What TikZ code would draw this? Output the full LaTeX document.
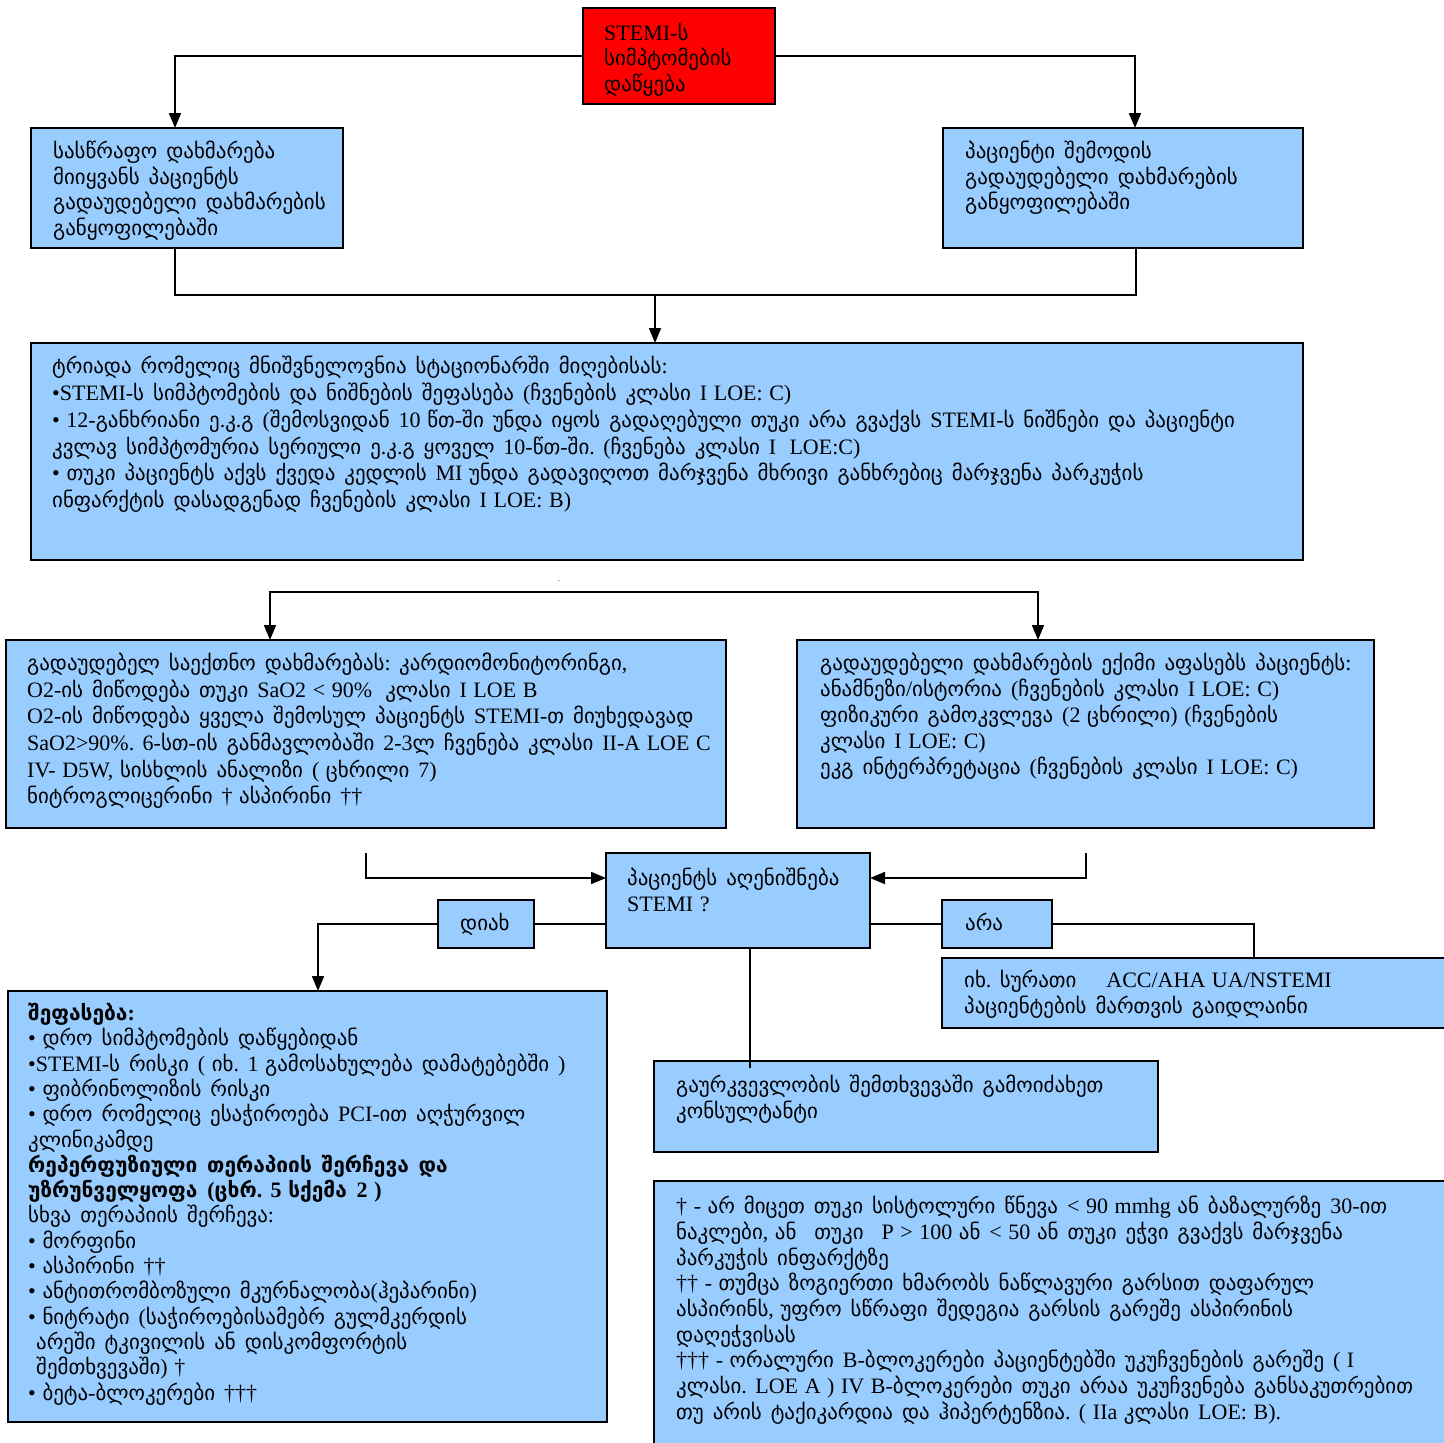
\documentclass[tikz,border=0pt]{standalone}
\usepackage{fontspec}
\setmainfont{Liberation Serif}[WordSpace=1.2]
\newfontfamily\geofont{DejaVu Sans}[Scale=0.95, WordSpace=1.35]
\newXeTeXintercharclass\GeoClass
\newcount\geocnt
\geocnt="10A0
\loop
  \XeTeXcharclass\geocnt=\GeoClass
  \ifnum\geocnt<"10FF \advance\geocnt by 1 \repeat
\XeTeXinterchartokenstate=1
\XeTeXinterchartoks 0 \GeoClass={\geofont}
\XeTeXinterchartoks 4095 \GeoClass={\geofont}
\XeTeXinterchartoks \GeoClass 0={\rmfamily}
\XeTeXinterchartoks 4095 0={\rmfamily}
\usetikzlibrary{arrows.meta,calc}
\definecolor{boxblue}{HTML}{99CCFF}
\definecolor{stemired}{HTML}{FF0000}
\newcommand{\firststrut}{\rule{0pt}{17pt}}
\tikzset{
  box/.style={draw=black, line width=2pt, fill=boxblue, anchor=north west, inner sep=0pt, outer sep=0pt},
  txt/.style={anchor=north west, align=left, inner sep=0pt, font=\fontsize{22}{25.5}\selectfont},
  conn/.style={line width=1.8pt},
  arr/.style={line width=1.8pt, -{Triangle[length=15pt,width=12pt]}},
}
\begin{document}
\begin{tikzpicture}[x=1pt,y=-1pt]
\path[use as bounding box, fill=white] (0,0) rectangle (1444,1443);

% boxes
\node[box, fill=stemired, minimum width=192pt, minimum height=96pt] (red) at (583,8) {};
\node[box, minimum width=312pt, minimum height=120pt] (ltop) at (31,128) {};
\node[box, minimum width=360pt, minimum height=120pt] (rtop) at (943,128) {};
\node[box, minimum width=1272pt, minimum height=217pt] (big) at (31,343) {};
\node[box, minimum width=720pt, minimum height=188pt] (lmid) at (6,640) {};
\node[box, minimum width=577pt, minimum height=188pt] (rmid) at (797,640) {};
\node[box, minimum width=264pt, minimum height=95pt] (dec) at (606,853) {};
\node[box, minimum width=96pt, minimum height=48pt] (diax) at (438,900) {};
\node[box, minimum width=110pt, minimum height=48pt] (ara) at (942,900) {};
\node[box, minimum width=530pt, minimum height=70pt] (ixb) at (942,958) {};
\node[box, minimum width=599pt, minimum height=431pt] (bl) at (8,991) {};
\node[box, minimum width=504pt, minimum height=91pt] (cons) at (654,1061) {};
\node[box, minimum width=820pt, minimum height=280pt] (foot) at (654,1181) {};

% texts (y = first baseline - 17)
\node[txt] (redt) at (604,23) {\firststrut STEMI-ს\\სიმპტომების\\დაწყება};
\node[txt] (ltopt) at (53,141) {\firststrut სასწრაფო დახმარება\\მიიყვანს პაციენტს\\გადაუდებელი დახმარების\\განყოფილებაში};
\node[txt] (rtopt) at (965,141) {\firststrut პაციენტი შემოდის\\გადაუდებელი დახმარების\\განყოფილებაში};
\node[txt, font=\fontsize{22}{26.8}\selectfont] (bigt) at (52,356) {\firststrut ტრიადა რომელიც მნიშვნელოვნია სტაციონარში მიღებისას:\\
•STEMI-ს სიმპტომების და ნიშნების შეფასება (ჩვენების კლასი I LOE: C)\\
• 12-განხრიანი ე.კ.გ (შემოსვიდან 10 წთ-ში უნდა იყოს გადაღებული თუკი არა გვაქვს STEMI-ს ნიშნები და პაციენტი\\
კვლავ სიმპტომურია სერიული ე.კ.გ ყოველ 10-წთ-ში. (ჩვენება კლასი I~ LOE:C)\\
• თუკი პაციენტს აქვს ქვედა კედლის MI უნდა გადავიღოთ მარჯვენა მხრივი განხრებიც მარჯვენა პარკუჭის\\
ინფარქტის დასადგენად ჩვენების კლასი I LOE: B)};
\node[txt, font=\fontsize{8}{8}\selectfont] (dot) at (558,580) {.};
\node[txt, font=\fontsize{22}{26.6}\selectfont] (lmidt) at (27,653) {\firststrut გადაუდებელ საექთნო დახმარებას: კარდიომონიტორინგი,\\
O2-ის მიწოდება თუკი SaO2 < 90\%~ კლასი I LOE B\\
O2-ის მიწოდება ყველა შემოსულ პაციენტს STEMI-თ მიუხედავად\\
SaO2>90\%. 6-სთ-ის განმავლობაში 2-3ლ ჩვენება კლასი II-A LOE C\\
IV- D5W, სისხლის ანალიზი ( ცხრილი 7)\\
ნიტროგლიცერინი † ასპირინი ††};
\node[txt, font=\fontsize{22}{26}\selectfont] (rmidt) at (820,653) {\firststrut გადაუდებელი დახმარების ექიმი აფასებს პაციენტს:\\
ანამნეზი/ისტორია (ჩვენების კლასი I LOE: C)\\
ფიზიკური გამოკვლევა (2 ცხრილი) (ჩვენების\\
კლასი I LOE: C)\\
ეკგ ინტერპრეტაცია (ჩვენების კლასი I LOE: C)};
\node[txt] (dect) at (627,868) {\firststrut პაციენტს აღენიშნება\\STEMI ?};
\node[txt] (diaxt) at (460,913) {\firststrut დიახ};
\node[txt] (arat) at (965,913) {\firststrut არა};
\node[txt] (ixbt) at (964,970) {\firststrut იხ. სურათი \quad ACC/AHA UA/NSTEMI\\პაციენტების მართვის გაიდლაინი};
\node[txt] (const) at (676,1075) {\firststrut გაურკვევლობის შემთხვევაში გამოიძახეთ\\კონსულტანტი};
\node[txt, font=\fontsize{22}{25.3}\selectfont] (blt) at (28,1003) {\firststrut\textbf{შეფასება:}\\
• დრო სიმპტომების დაწყებიდან\\
•STEMI-ს რისკი ( იხ. 1 გამოსახულება დამატებებში )\\
• ფიბრინოლიზის რისკი\\
• დრო რომელიც ესაჭიროება PCI-ით აღჭურვილ\\
კლინიკამდე\\
\textbf{რეპერფუზიული თერაპიის შერჩევა და}\\
\textbf{უზრუნველყოფა (ცხრ. 5 სქემა 2 )}\\
სხვა თერაპიის შერჩევა:\\
• მორფინი\\
• ასპირინი ††\\
• ანტითრომბოზული მკურნალობა(ჰეპარინი)\\
• ნიტრატი (საჭიროებისამებრ გულმკერდის\\
\hspace*{8pt}არეში ტკივილის ან დისკომფორტის\\
\hspace*{8pt}შემთხვევაში) †\\
• ბეტა-ბლოკერები †††};
\node[txt, font=\fontsize{22}{25.7}\selectfont] (foott) at (676,1196) {\firststrut † - არ მიცეთ თუკი სისტოლური წნევა < 90 mmhg ან ბაზალურზე 30-ით\\
ნაკლები, ან~ თუკი~ P > 100 ან < 50 ან თუკი ეჭვი გვაქვს მარჯვენა\\
პარკუჭის ინფარქტზე\\
†† - თუმცა ზოგიერთი ხმარობს ნაწლავური გარსით დაფარულ\\
ასპირინს, უფრო სწრაფი შედეგია გარსის გარეშე ასპირინის\\
დაღეჭვისას\\
††† - ორალური B-ბლოკერები პაციენტებში უკუჩვენების გარეშე ( I\\
კლასი. LOE A ) IV B-ბლოკერები თუკი არაა უკუჩვენება განსაკუთრებით\\
თუ არის ტაქიკარდია და ჰიპერტენზია. ( IIa კლასი LOE: B).};

% connectors
\draw[arr] (red.west) -| ($(ltop.north west)+(144,0)$);
\draw[arr] (red.east) -| ($(rtop.north west)+(192,0)$);
\draw[conn] ($(ltop.south west)+(144,0)$) |- ($(rtop.south west)+(193,47)$) -- ($(rtop.south west)+(193,0)$);
\draw[arr] ($(big.north west)+(624,-48)$) -- ($(big.north west)+(624,0)$);
\draw[arr] ($(rmid.north west)+(241,-48)$) -| ($(lmid.north west)+(264,0)$);
\draw[arr] ($(lmid.north west)+(264,-48)$) -| ($(rmid.north west)+(241,0)$);
\draw[arr] ($(lmid.south west)+(360,25)$) |- ($(dec.north west)+(0,25)$);
\draw[arr] ($(rmid.south west)+(289,25)$) |- ($(dec.north east)+(0,25)$);
\draw[conn] (diax.east) -- (diax.east -| dec.west);
\draw[arr] (diax.west) -| ($(bl.north west)+(310,0)$);
\draw[conn] (ara.west -| dec.east) -- (ara.west);
\draw[conn] (ara.east) -| ($(ixb.north west)+(312,0)$);
\draw[conn] ($(dec.south west)+(144,0)$) -- ($(cons.north west)+(96,7)$);
\end{tikzpicture}
\end{document}
